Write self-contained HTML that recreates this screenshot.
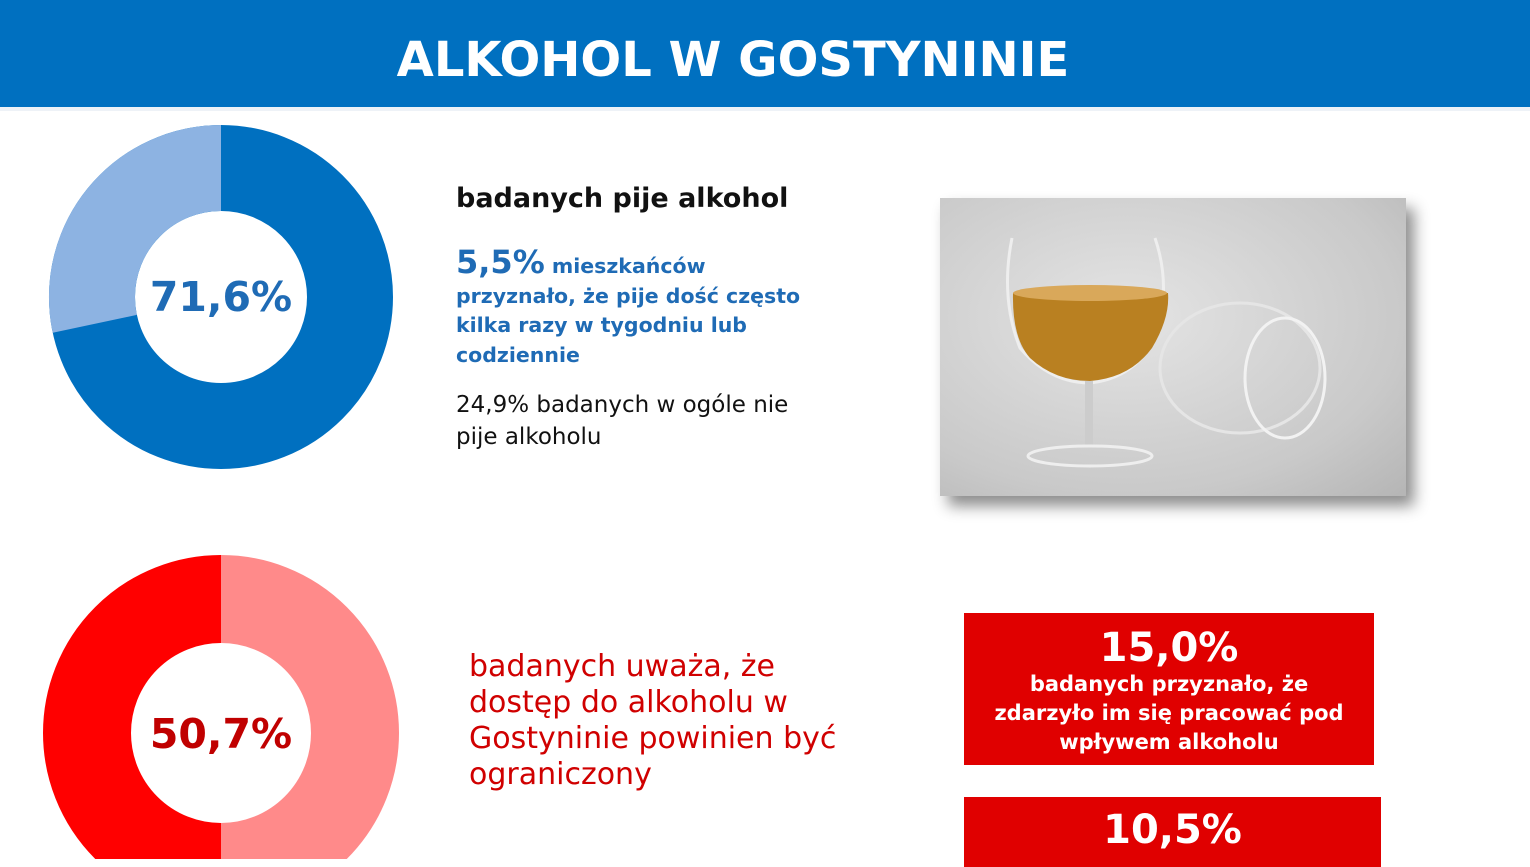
<!DOCTYPE html>
<html><head><meta charset="utf-8"><style>
body{margin:0;width:1530px;height:859px;overflow:hidden;background:#fff;font-family:"DejaVu Sans","Liberation Sans",sans-serif;position:relative}
.a{position:absolute;white-space:nowrap}
</style></head><body>
<div class="a" style="left:0;top:0;width:1530px;height:107px;background:#0070c0"></div>
<div class="a" style="left:0;top:107px;width:1530px;height:4px;background:#eef2f7"></div>
<div class="a" style="left:0;top:28px;width:1466px;text-align:center;color:#fff;font-weight:bold;font-size:48px;line-height:64px">ALKOHOL W GOSTYNINIE</div>

<svg class="a" style="left:0;top:0" width="1530" height="859">
<g transform="translate(221,297)">
<circle r="129" fill="none" stroke="#0070c0" stroke-width="86"/>
<path d="M0,-129 A129,129 0 0 0 -126.2,26.8" fill="none" stroke="#8db3e2" stroke-width="86"/>
</g>
<g transform="translate(221,733)">
<path d="M0,-134 A134,134 0 0 1 0,134" fill="none" stroke="#ff8a8a" stroke-width="88"/>
<path d="M0,-134 A134,134 0 0 0 0,134" fill="none" stroke="#ff0000" stroke-width="88"/>
</g>
</svg>
<div class="a" style="left:121px;top:270px;width:200px;text-align:center;color:#1f6bb5;font-weight:bold;font-size:41px;line-height:54px">71,6%</div>
<div class="a" style="left:121px;top:707px;width:200px;text-align:center;color:#c00000;font-weight:bold;font-size:41px;line-height:54px">50,7%</div>

<div class="a" style="left:456px;top:183px;font-weight:bold;font-size:27px;color:#111">badanych pije alkohol</div>
<div class="a" style="left:456px;top:248px;font-weight:bold;color:#1f6bb5;font-size:20.5px;line-height:29.5px"><span style="font-size:32px">5,5%</span> mieszkańców<br>przyznało, że pije dość często<br>kilka razy w tygodniu lub<br>codziennie</div>
<div class="a" style="left:456px;top:389px;color:#111;font-size:23px;line-height:32px">24,9% badanych w ogóle nie<br>pije alkoholu</div>

<div class="a" style="left:469px;top:649px;color:#d00000;font-size:30px;line-height:36px">badanych uważa, że<br>dostęp do alkoholu w<br>Gostyninie powinien być<br>ograniczony</div>

<div class="a" style="left:940px;top:198px;width:466px;height:298px;background:radial-gradient(ellipse at 40% 40%,#e4e4e4,#c9c9c9 70%,#b5b5b5);box-shadow:8px 10px 14px rgba(0,0,0,0.45);overflow:hidden">
<svg width="466" height="298">
<path d="M72,40 Q60,100 80,150 Q110,185 150,185 Q195,180 215,140 Q232,90 215,40" fill="none" stroke="#eee" stroke-width="3"/>
<path d="M73,95 Q72,140 90,160 Q115,183 150,183 Q190,180 212,150 Q230,120 228,95 Z" fill="#b98021"/>
<ellipse cx="150" cy="95" rx="77" ry="8" fill="#d9a85a"/>
<rect x="145" y="183" width="8" height="65" fill="#ccc"/>
<ellipse cx="150" cy="258" rx="62" ry="10" fill="none" stroke="#eee" stroke-width="3"/>
<ellipse cx="300" cy="170" rx="80" ry="65" fill="none" stroke="#e5e5e5" stroke-width="3"/>
<ellipse cx="345" cy="180" rx="40" ry="60" fill="none" stroke="#f2f2f2" stroke-width="3"/>
</svg></div>

<div class="a" style="left:964px;top:613px;width:410px;height:152px;background:#e00000;color:#fff;font-weight:bold;text-align:center">
<div style="font-size:40px;line-height:46px;margin-top:12px">15,0%</div>
<div style="font-size:21px;line-height:29px;margin-top:-1px">badanych przyznało, że<br>zdarzyło im się pracować pod<br>wpływem alkoholu</div></div>
<div class="a" style="left:964px;top:797px;width:417px;height:70px;background:#e00000;color:#fff;font-weight:bold;text-align:center">
<div style="font-size:40px;line-height:46px;margin-top:10px">10,5%</div></div>
</body></html>
